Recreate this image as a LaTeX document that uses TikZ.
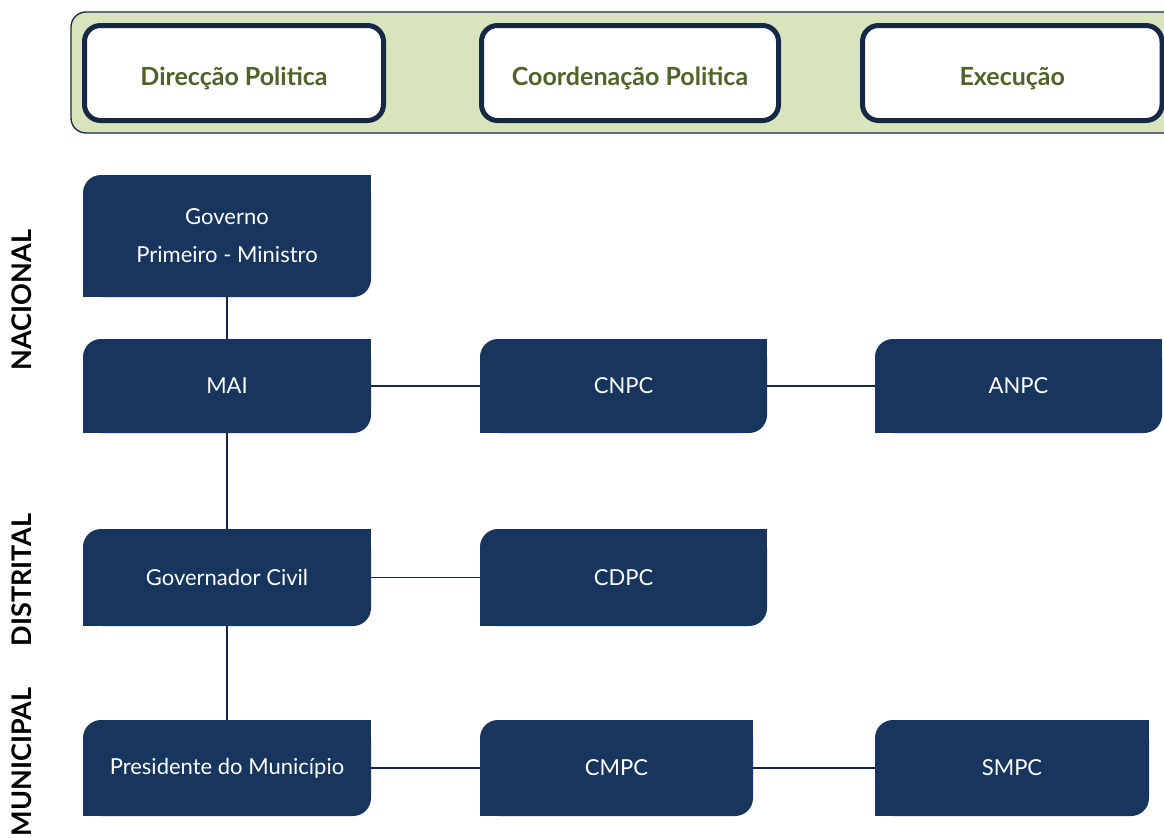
\documentclass[tikz,border=0pt]{standalone}
\usepackage{fontspec}
\setmainfont{Lato}
\definecolor{navy}{RGB}{24,54,93}
\definecolor{navyline}{RGB}{22,40,70}
\definecolor{paleg}{RGB}{216,228,188}
\definecolor{oliveg}{RGB}{79,98,40}
\tikzset{
  nbox/.style={fill=navy, text=white, rounded corners=18pt, inner sep=0pt, align=center,
    font=\fontsize{22}{38}\selectfont},
  hbox/.style={fill=white, draw=navyline, line width=5pt, rounded corners=16pt, inner sep=0pt,
    text=oliveg, font=\fontsize{25}{30}\selectfont\bfseries},
  side/.style={rotate=90, font=\fontsize{27}{30}\selectfont\bfseries, text=black},
  conn/.style={draw=navyline, line width=1.2pt}
}
\newcommand{\nb}[6]{%
  \node[nbox, minimum width={#4-#2}, minimum height={#5-#3}] (#1) at ({(#2+#4)/2},{(#3+#5)/2}) {#6};
  \fill[navy] (#1.north east) rectangle ++(-20pt,-20pt);
  \fill[navy] (#1.south west) rectangle ++(20pt,20pt);
}
\newcommand{\hb}[6]{%
  \node[hbox, minimum width={#4-#2}, minimum height={#5-#3}] (#1) at ({(#2+#4)/2},{(#3+#5)/2}) {\raisebox{-12pt}[0pt][0pt]{#6}};
}
\begin{document}
\begin{tikzpicture}[x=1pt,y=-1pt]
\useasboundingbox (0,0) rectangle (1164,838);
\clip (0,0) rectangle (1164,838);
\fill[white] (0,0) rectangle (1164,838);
% header band
\node[fill=paleg, draw=navyline, line width=1.3pt, rounded corners=15pt, minimum width=1110, minimum height=121, inner sep=0pt] (band) at ({(71+1181)/2},{(12+133)/2}) {};
\hb{h1}{84.5}{25.5}{383.5}{120.5}{Direcção Politica}
\hb{h2}{481.5}{25.5}{778.5}{120.5}{Coordenação Politica}
\hb{h3}{862.5}{25.5}{1162}{120.5}{Execução}
% side labels
\node[side] (nac) at (22,300) {NACIONAL};
\node[side] (dis) at (22,580) {DISTRITAL};
\node[side] (mun) at (22,762) {MUNICIPAL};
% boxes
\nb{gov}{83}{175}{371}{297}{Governo\\Primeiro - Ministro}
\nb{mai}{83}{339}{371}{433}{MAI}
\nb{cnpc}{480}{339}{767}{433}{CNPC}
\nb{anpc}{875}{339}{1162}{433}{ANPC}
\nb{gcv}{83}{529}{371}{626}{Governador Civil}
\nb{cdpc}{480}{529}{767}{626}{CDPC}
\nb{pres}{83}{720}{371}{816}{Presidente do Município}
\nb{cmpc}{480}{720}{753}{816}{CMPC}
\nb{smpc}{875}{720}{1149}{816}{SMPC}
% connectors
\draw[conn] (gov) -- (mai);
\draw[conn] (mai) -- (gcv);
\draw[conn] (gcv) -- (pres);
\draw[conn] (mai) -- (cnpc);
\draw[conn] (cnpc) -- (anpc);
\draw[conn] (gcv) -- (cdpc);
\draw[conn] (pres) -- (cmpc);
\draw[conn] (cmpc) -- (smpc);
\end{tikzpicture}
\end{document}
